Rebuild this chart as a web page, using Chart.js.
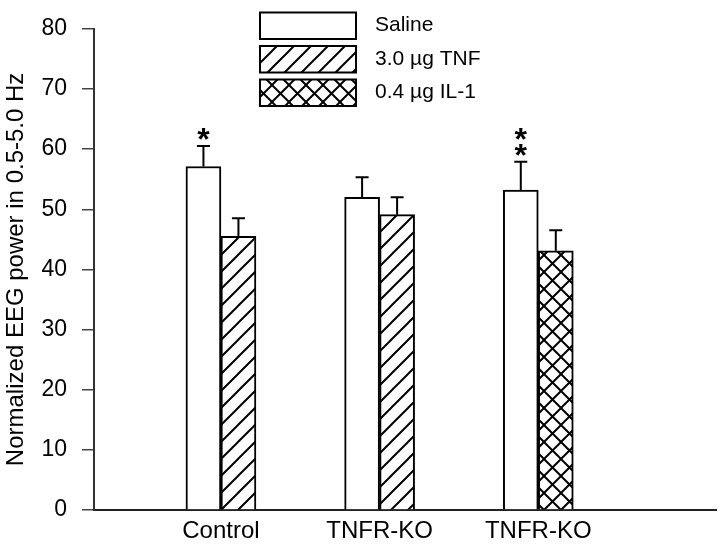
<!DOCTYPE html>
<html>
<head>
<meta charset="utf-8">
<script src="https://cdn.jsdelivr.net/npm/chart.js@4"></script>
<style>
  body { margin: 0; background: #fff; }
  canvas { display: block; }
</style>
</head>
<body>
<canvas id="eegChart" width="720" height="548"></canvas>
<script>
const groups = ['Control', 'TNFR-KO', 'TNFR-KO'];
const groupPos = [1, 2, 3];
const salineMean = [57.1, 52.0, 53.2];
const salineErr = [3.4, 3.3, 4.7];
const treatMean = [45.5, 49.1, 43.1];
const treatErr = [3.0, 2.9, 3.4];
const treatKind = ['TNF', 'TNF', 'IL-1'];
const salineStars = ['*', '', '**'];
const legendNames = ['Saline', '3.0 µg TNF', '0.4 µg IL-1'];
const yTitle = 'Normalized EEG power in 0.5-5.0 Hz';
const FONT = '"Liberation Sans", Arial, sans-serif';

function makePattern(cross) {
    const s = 17;
    const c = document.createElement('canvas');
    c.width = s; c.height = s;
    const g = c.getContext('2d');
    g.fillStyle = '#fff';
    g.fillRect(0, 0, s, s);
    g.strokeStyle = '#000';
    g.lineWidth = 2;
    g.beginPath();
    g.moveTo(-2, s + 2); g.lineTo(s + 2, -2);
    g.moveTo(-2, 2); g.lineTo(2, -2);
    g.moveTo(s - 2, s + 2); g.lineTo(s + 2, s - 2);
    if (cross) {
        g.moveTo(-2, -2); g.lineTo(s + 2, s + 2);
        g.moveTo(s - 2, -2); g.lineTo(s + 2, 2);
        g.moveTo(-2, s - 2); g.lineTo(2, s + 2);
    }
    g.stroke();
    return g.createPattern(c, 'repeat');
}

const diag = makePattern(false);
const cross = makePattern(true);
const treatFill = k => k === 'IL-1' ? cross : diag;

const errorBars = {
    id: 'errorBars',
    afterDatasetsDraw(chart) {
        const { ctx, scales: { y } } = chart;
        ctx.save();
        ctx.strokeStyle = '#000';
        ctx.lineWidth = 2;
        chart.data.datasets.forEach((ds, di) => {
            chart.getDatasetMeta(di).data.forEach((bar, i) => {
                const top = y.getPixelForValue(ds.data[i].y + ds.errors[i]);
                ctx.beginPath();
                ctx.moveTo(bar.x, bar.y);
                ctx.lineTo(bar.x, top);
                ctx.moveTo(bar.x - 6.5, top);
                ctx.lineTo(bar.x + 6.5, top);
                ctx.stroke();
                const stars = ds.stars ? ds.stars[i] : '';
                ctx.fillStyle = '#000';
                ctx.font = 'bold 32px ' + FONT;
                ctx.textAlign = 'center';
                ctx.textBaseline = 'alphabetic';
                for (let k = 0; k < stars.length; k++) {
                    const m = ctx.measureText('*');
                    const cy = top - 12 - k * 16;
                    ctx.fillText('*', bar.x, cy + (m.actualBoundingBoxAscent - m.actualBoundingBoxDescent) / 2);
                }
            });
        });
        ctx.restore();
    }
};

const boxLegend = {
    id: 'boxLegend',
    afterDraw(chart) {
        const ctx = chart.ctx;
        const fills = ['#fff', diag, cross];
        const tops = [12.5, 46, 79.5];
        ctx.save();
        ctx.font = '21px ' + FONT;
        ctx.textBaseline = 'middle';
        ctx.textAlign = 'left';
        legendNames.forEach((name, i) => {
            ctx.fillStyle = fills[i];
            ctx.fillRect(260, tops[i], 96, 26.5);
            ctx.strokeStyle = '#000';
            ctx.lineWidth = 2;
            ctx.strokeRect(260, tops[i], 96, 26.5);
            ctx.fillStyle = '#000';
            ctx.fillText(name, 375, tops[i] + 13);
        });
        ctx.restore();
    }
};

new Chart(document.getElementById('eegChart'), {
    type: 'bar',
    data: {
        datasets: [{
            label: 'Saline',
            data: groupPos.map((x, i) => ({ x, y: salineMean[i] })),
            errors: salineErr,
            stars: salineStars,
            backgroundColor: '#fff',
            borderColor: '#000',
            borderWidth: 2,
            barThickness: 35
        }, {
            label: 'Treatment',
            data: groupPos.map((x, i) => ({ x, y: treatMean[i] })),
            errors: treatErr,
            backgroundColor: c => treatFill(treatKind[c.dataIndex]),
            borderColor: '#000',
            borderWidth: 2,
            barThickness: 35
        }]
    },
    options: {
        responsive: false,
        animation: false,
        layout: { padding: { top: 13, right: 4, left: 0, bottom: 0 } },
        plugins: { legend: { display: false }, tooltip: { enabled: false } },
        scales: {
            x: {
                type: 'linear',
                offset: false,
                min: 0.2,
                max: 4.12,
                afterBuildTicks: s => { s.ticks = groupPos.map(v => ({ value: v })); },
                afterFit: s => { s.height = 38; },
                ticks: {
                    callback: (v, i) => groups[i],
                    autoSkip: false,
                    maxRotation: 0,
                    padding: 7,
                    color: '#000',
                    font: { family: FONT, size: 24 }
                },
                grid: { display: false, drawTicks: false },
                border: { display: true, color: '#222', width: 2 }
            },
            y: {
                min: 0,
                max: 80,
                afterFit: s => { s.width = 94; },
                ticks: {
                    stepSize: 10,
                    padding: 15,
                    color: '#000',
                    font: { family: FONT, size: 23 }
                },
                grid: { drawOnChartArea: false, tickLength: 12, color: '#444', lineWidth: 1.5 },
                border: { color: '#333', width: 2 },
                title: {
                    display: true,
                    text: yTitle,
                    color: '#000',
                    padding: 2,
                    font: { family: FONT, size: 24 }
                }
            }
        }
    },
    plugins: [errorBars, boxLegend]
});
</script>
</body>
</html>
